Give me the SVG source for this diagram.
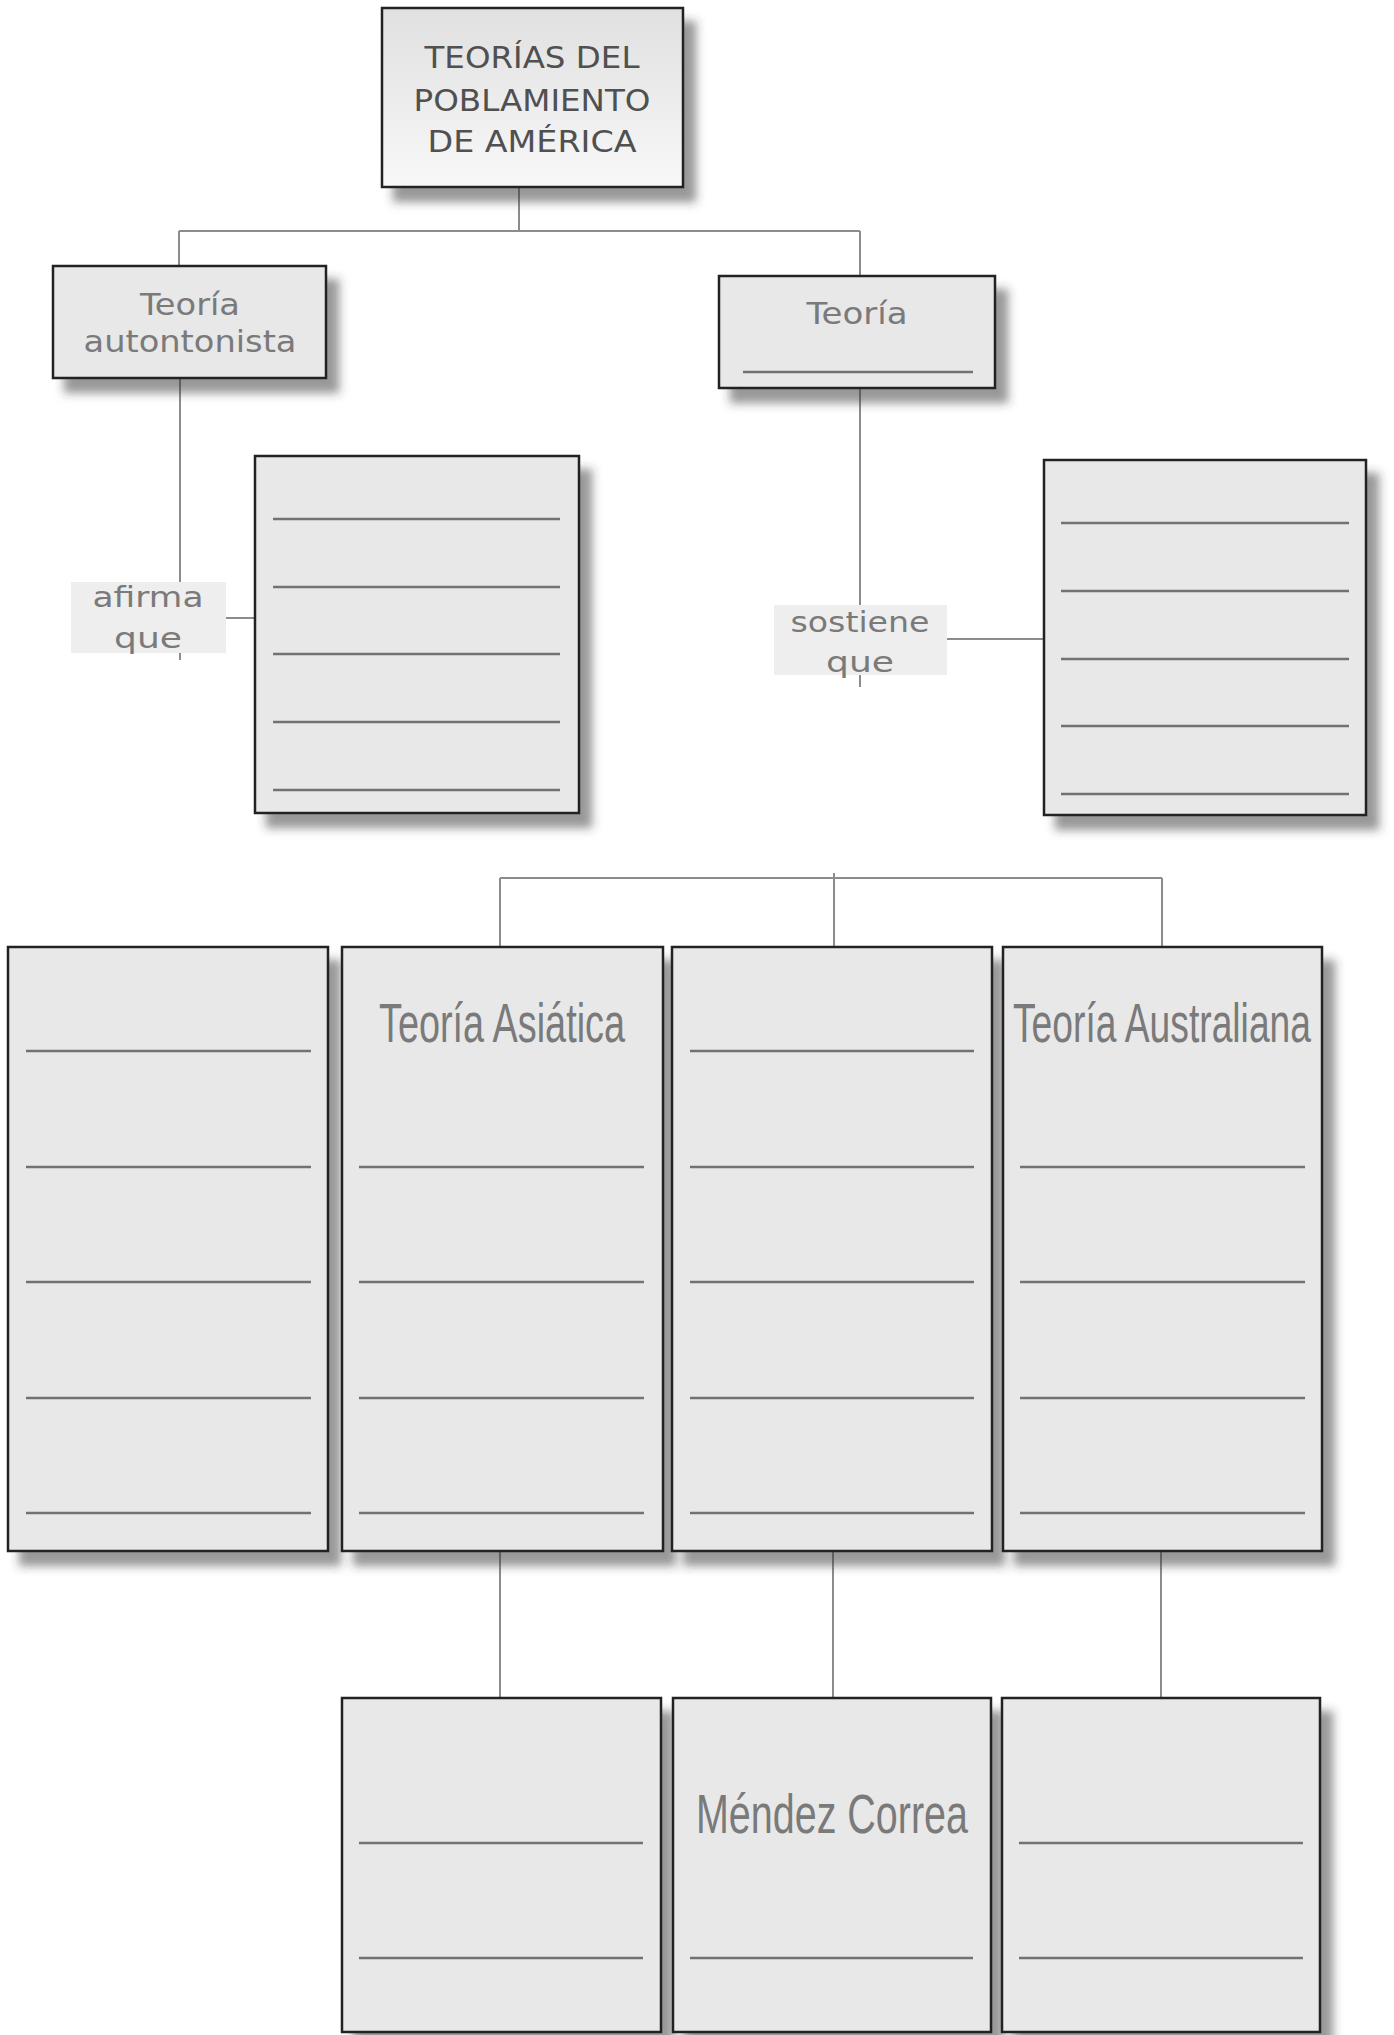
<svg xmlns="http://www.w3.org/2000/svg" width="1394" height="2035" viewBox="0 0 1394 2035">
<defs>
<filter id="sh" x="-10%" y="-10%" width="135%" height="135%">
<feDropShadow dx="12" dy="14" stdDeviation="5" flood-color="#333" flood-opacity="0.5"/>
</filter>
<linearGradient id="tg" x1="0" y1="0" x2="0" y2="1">
<stop offset="0" stop-color="#e0e0e0"/>
<stop offset="1" stop-color="#f8f8f8"/>
</linearGradient>
</defs>
<style>
.box{fill:#e8e8e8;stroke:#222;stroke-width:2.5;filter:url(#sh)}
.top{fill:url(#tg)}
.ln{stroke:#727272;stroke-width:2.4;fill:none}
.conn{stroke:#8c8c8c;stroke-width:2;fill:none}
.lbl{fill:#eeeeee}
.t{font-family:"DejaVu Sans",sans-serif;fill:#7a7a7a;text-anchor:middle}
.h{font-family:"DejaVu Sans",sans-serif;fill:#505050;text-anchor:middle;font-size:30px}
.c{font-family:"Liberation Sans",Arial,sans-serif;fill:#7a7a7a;text-anchor:middle;font-size:55px}
</style>
<rect width="1394" height="2035" fill="#ffffff"/>

<g id="connectors">
<line class="conn" x1="519" y1="187" x2="519" y2="231"/>
<line class="conn" x1="179" y1="231" x2="860" y2="231"/>
<line class="conn" x1="179" y1="231" x2="179" y2="266"/>
<line class="conn" x1="860" y1="231" x2="860" y2="276"/>
<line class="conn" x1="180" y1="378" x2="180" y2="660"/>
<line class="conn" x1="226" y1="618" x2="255" y2="618"/>
<line class="conn" x1="860" y1="388" x2="860" y2="687"/>
<line class="conn" x1="947" y1="639" x2="1044" y2="639"/>
<line class="conn" x1="500" y1="878" x2="1162" y2="878"/>
<line class="conn" x1="500" y1="878" x2="500" y2="947"/>
<line class="conn" x1="834" y1="873" x2="834" y2="947"/>
<line class="conn" x1="1162" y1="878" x2="1162" y2="947"/>
<line class="conn" x1="500" y1="1551" x2="500" y2="1698"/>
<line class="conn" x1="833" y1="1551" x2="833" y2="1698"/>
<line class="conn" x1="1161" y1="1551" x2="1161" y2="1698"/>
</g>

<g id="n-title">
<rect class="box top" x="382" y="8" width="301" height="179"/>
<text class="h" x="532" y="68" textLength="215" lengthAdjust="spacingAndGlyphs">TEORÍAS DEL</text>
<text class="h" x="532" y="111" textLength="237" lengthAdjust="spacingAndGlyphs">POBLAMIENTO</text>
<text class="h" x="532" y="152" textLength="209" lengthAdjust="spacingAndGlyphs">DE AMÉRICA</text>
</g>

<g id="n-autoctonista">
<rect class="box" x="53" y="266" width="273" height="112"/>
<text class="t" x="190" y="315" font-size="30" textLength="100" lengthAdjust="spacingAndGlyphs">Teoría</text>
<text class="t" x="190" y="352" font-size="30" textLength="213" lengthAdjust="spacingAndGlyphs">autontonista</text>
</g>

<g id="n-teoria2">
<rect class="box" x="719" y="276" width="276" height="112"/>
<text class="t" x="857" y="324" font-size="30" textLength="101" lengthAdjust="spacingAndGlyphs">Teoría</text>
<line class="ln" x1="743" y1="372" x2="973" y2="372"/>
</g>

<g id="l-afirma">
<rect class="lbl" x="71" y="582" width="155" height="71"/>
<text class="t" x="148" y="607" font-size="28" textLength="111" lengthAdjust="spacingAndGlyphs">afirma</text>
<text class="t" x="148" y="648" font-size="28" textLength="68" lengthAdjust="spacingAndGlyphs">que</text>
</g>

<g id="l-sostiene">
<rect class="lbl" x="774" y="605" width="173" height="70"/>
<text class="t" x="860" y="632" font-size="28" textLength="139" lengthAdjust="spacingAndGlyphs">sostiene</text>
<text class="t" x="860" y="672" font-size="28" textLength="68" lengthAdjust="spacingAndGlyphs">que</text>
</g>

<g id="n-afirma-box">
<rect class="box" x="255" y="456" width="324" height="357"/>
<line class="ln" x1="273" y1="519" x2="560" y2="519"/>
<line class="ln" x1="273" y1="587" x2="560" y2="587"/>
<line class="ln" x1="273" y1="654" x2="560" y2="654"/>
<line class="ln" x1="273" y1="722" x2="560" y2="722"/>
<line class="ln" x1="273" y1="790" x2="560" y2="790"/>
</g>

<g id="n-sostiene-box">
<rect class="box" x="1044" y="460" width="322" height="355"/>
<line class="ln" x1="1061" y1="523" x2="1349" y2="523"/>
<line class="ln" x1="1061" y1="591" x2="1349" y2="591"/>
<line class="ln" x1="1061" y1="659" x2="1349" y2="659"/>
<line class="ln" x1="1061" y1="726" x2="1349" y2="726"/>
<line class="ln" x1="1061" y1="794" x2="1349" y2="794"/>
</g>

<g id="n-col1">
<rect class="box" x="8" y="947" width="320" height="604"/>
<line class="ln" x1="26" y1="1051" x2="311" y2="1051"/>
<line class="ln" x1="26" y1="1167" x2="311" y2="1167"/>
<line class="ln" x1="26" y1="1282" x2="311" y2="1282"/>
<line class="ln" x1="26" y1="1398" x2="311" y2="1398"/>
<line class="ln" x1="26" y1="1513" x2="311" y2="1513"/>
</g>

<g id="n-asiatica">
<rect class="box" x="342" y="947" width="321" height="604"/>
<text class="c" x="502" y="1042" textLength="246" lengthAdjust="spacingAndGlyphs">Teoría Asiática</text>
<line class="ln" x1="359" y1="1167" x2="644" y2="1167"/>
<line class="ln" x1="359" y1="1282" x2="644" y2="1282"/>
<line class="ln" x1="359" y1="1398" x2="644" y2="1398"/>
<line class="ln" x1="359" y1="1513" x2="644" y2="1513"/>
</g>

<g id="n-col3">
<rect class="box" x="672" y="947" width="320" height="604"/>
<line class="ln" x1="690" y1="1051" x2="974" y2="1051"/>
<line class="ln" x1="690" y1="1167" x2="974" y2="1167"/>
<line class="ln" x1="690" y1="1282" x2="974" y2="1282"/>
<line class="ln" x1="690" y1="1398" x2="974" y2="1398"/>
<line class="ln" x1="690" y1="1513" x2="974" y2="1513"/>
</g>

<g id="n-australiana">
<rect class="box" x="1003" y="947" width="319" height="604"/>
<text class="c" x="1162" y="1042" textLength="298" lengthAdjust="spacingAndGlyphs">Teoría Australiana</text>
<line class="ln" x1="1020" y1="1167" x2="1305" y2="1167"/>
<line class="ln" x1="1020" y1="1282" x2="1305" y2="1282"/>
<line class="ln" x1="1020" y1="1398" x2="1305" y2="1398"/>
<line class="ln" x1="1020" y1="1513" x2="1305" y2="1513"/>
</g>

<g id="n-bottom1">
<rect class="box" x="342" y="1698" width="319" height="334"/>
<line class="ln" x1="359" y1="1843" x2="643" y2="1843"/>
<line class="ln" x1="359" y1="1958" x2="643" y2="1958"/>
</g>

<g id="n-mendez">
<rect class="box" x="673" y="1698" width="318" height="334"/>
<text class="c" x="832" y="1833" textLength="272" lengthAdjust="spacingAndGlyphs">Méndez Correa</text>
<line class="ln" x1="690" y1="1958" x2="973" y2="1958"/>
</g>

<g id="n-bottom3">
<rect class="box" x="1002" y="1698" width="318" height="334"/>
<line class="ln" x1="1019" y1="1843" x2="1303" y2="1843"/>
<line class="ln" x1="1019" y1="1958" x2="1303" y2="1958"/>
</g>
</svg>
